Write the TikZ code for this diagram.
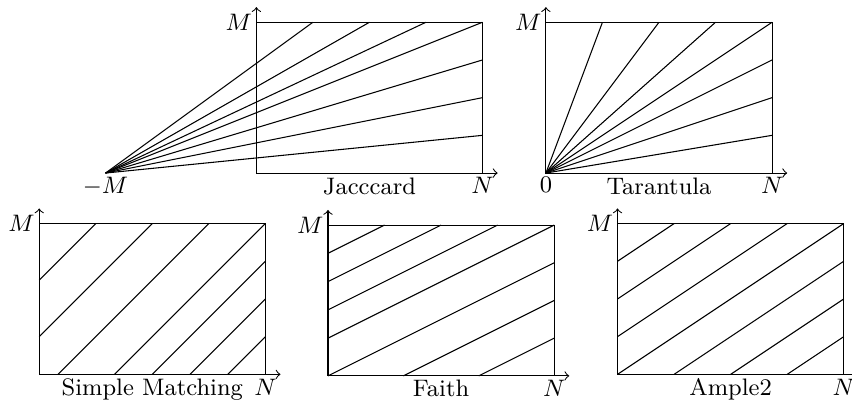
\documentclass[tikz,border=0pt]{standalone}
\usetikzlibrary{calc}

\begin{document}
\begin{tikzpicture}[line width=.4pt,lab/.style={inner sep=1.5pt,font=\small}]
\useasboundingbox (0,0) rectangle (11.3,5.305);
% Jaccard
\begin{scope}[shift={(3.40,3.01)}]
\coordinate (jO) at (0,0); \coordinate (jP) at (-2,0);
\draw (jO) rectangle (3,2); \draw[->] (jO)--(3.2,0); \draw[->] (jO)--(0,2.2);
\draw (jP)--(.75,2); \draw (jP)--(1.5,2); \draw (jP)--(2.25,2); \draw (jP)--(3,2);
\draw (jP)--(3,1.5); \draw (jP)--(3,1); \draw (jP)--(3,.5);
\node[lab,left] (jm) at (0,2) {$M$}; \node[lab,below] (jmm) at (jP) {$-M$};
\node[lab,below] (jt) at (1.5,0) {Jacccard}; \node[lab,below] (jn) at (3,0) {$N$};
\end{scope}
% Tarantula
\begin{scope}[shift={(7.24,3.01)}]
\coordinate (tO) at (0,0);
\draw (tO) rectangle (3,2); \draw[->] (tO)--(3.2,0); \draw[->] (tO)--(0,2.2);
\draw (tO)--(.75,2); \draw (tO)--(1.5,2); \draw (tO)--(2.25,2); \draw (tO)--(3,2);
\draw (tO)--(3,1.5); \draw (tO)--(3,1); \draw (tO)--(3,.5);
\node[lab,left] (tm) at (0,2) {$M$}; \node[lab,below] (tz) at (tO) {$0$};
\node[lab,below] (tt) at (1.5,0) {Tarantula}; \node[lab,below] (tn) at (3,0) {$N$};
\end{scope}
% Simple Matching
\begin{scope}[shift={(0.52,0.34)}]
\coordinate (sO) at (0,0);
\draw (sO) rectangle (3,2); \draw[->] (sO)--(3.2,0); \draw[->] (sO)--(0,2.2);
\draw (0,1.25)--(.75,2); \draw (0,.5)--(1.5,2); \draw (.25,0)--(2.25,2); \draw (1,0)--(3,2);
\draw (1.5,0)--(3,1.5); \draw (2,0)--(3,1); \draw (2.5,0)--(3,.5);
\node[lab,left] (sm) at (0,2) {$M$};
\node[lab,below] (st) at (1.5,0) {Simple Matching}; \node[lab,below] (sn) at (3,0) {$N$};
\end{scope}
% Faith
\begin{scope}[shift={(4.35,0.32)}]
\coordinate (fO) at (0,0);
\draw (fO) rectangle (3,2); \draw[->] (fO)--(3.2,0); \draw[->] (fO)--(0,2.2);
\draw (0,1.625)--(.75,2); \draw (0,1.25)--(1.5,2); \draw (0,.875)--(2.25,2); \draw (0,.5)--(3,2);
\draw (fO)--(3,1.5); \draw (1,0)--(3,1); \draw (2,0)--(3,.5);
\node[lab,left] (fm) at (0,2) {$M$};
\node[lab,below] (ft) at (1.5,0) {Faith}; \node[lab,below] (fn) at (3,0) {$N$};
\end{scope}
% Ample2
\begin{scope}[shift={(8.19,0.34)}]
\coordinate (aO) at (0,0);
\draw (aO) rectangle (3,2); \draw[->] (aO)--(3.2,0); \draw[->] (aO)--(0,2.2);
\draw (0,1.5)--(.75,2); \draw (0,1)--(1.5,2); \draw (0,.5)--(2.25,2); \draw (aO)--(3,2);
\draw (.75,0)--(3,1.5); \draw (1.5,0)--(3,1); \draw (2.25,0)--(3,.5);
\node[lab,left] (am) at (0,2) {$M$};
\node[lab,below] (at) at (1.5,0) {Ample2}; \node[lab,below] (an) at (3,0) {$N$};
\end{scope}
\end{tikzpicture}
\end{document}
